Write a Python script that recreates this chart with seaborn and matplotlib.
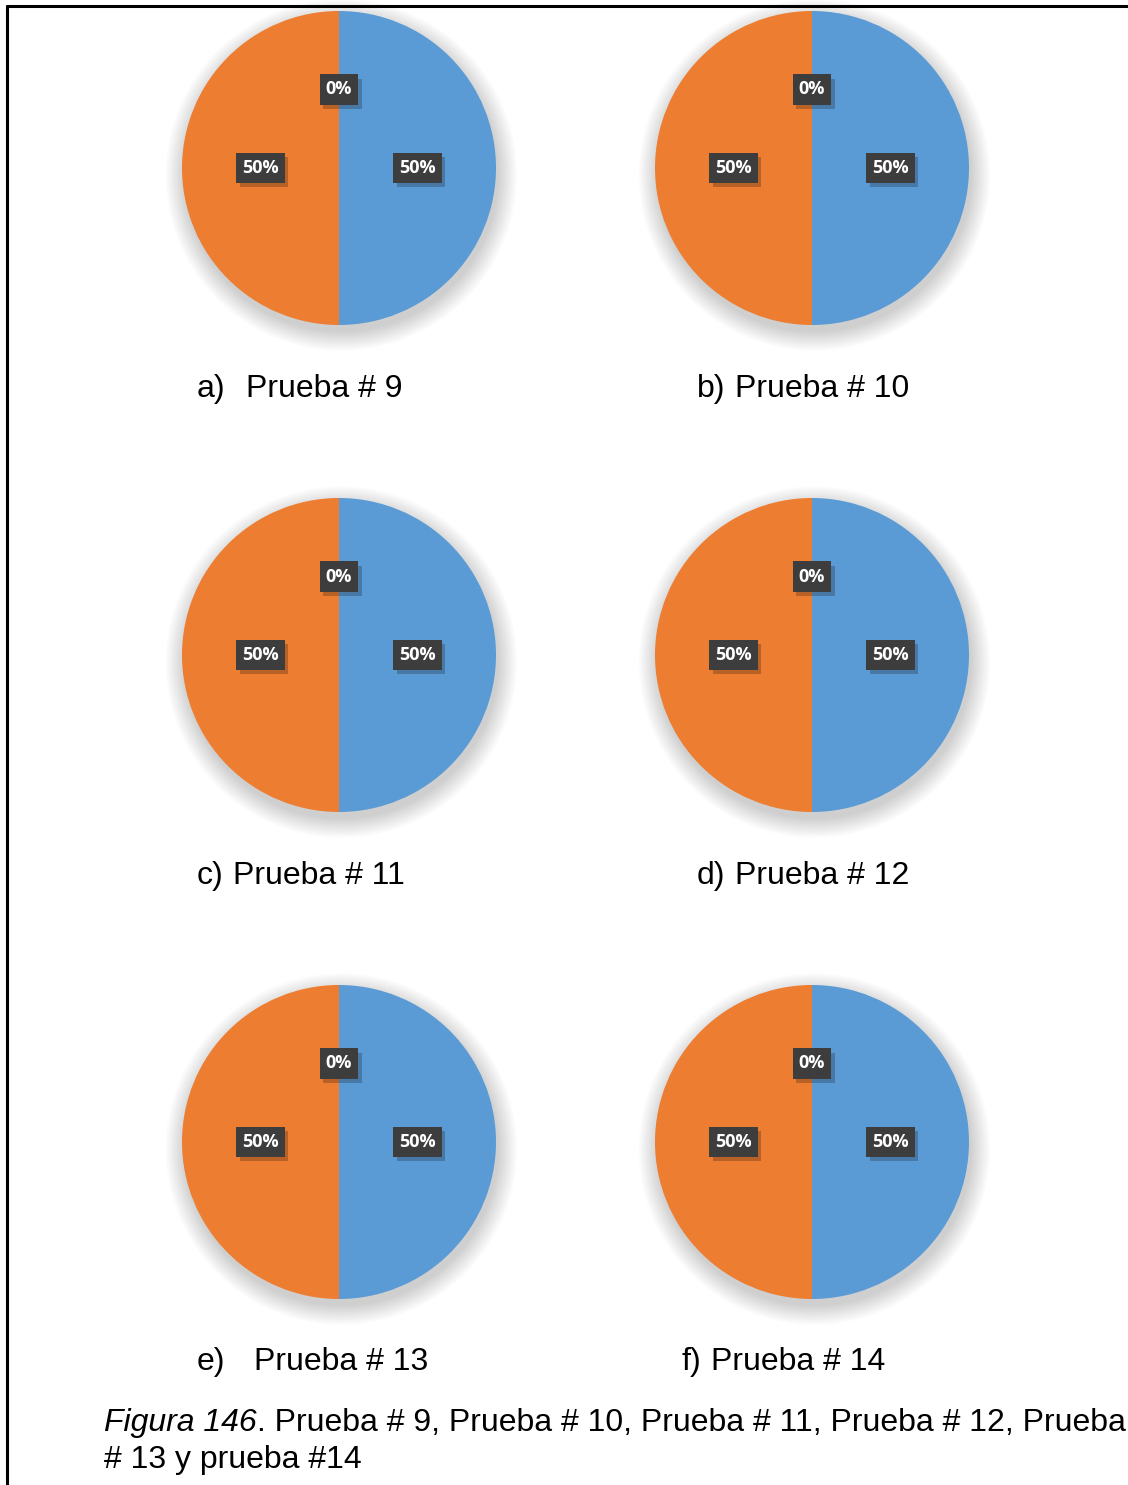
import matplotlib
matplotlib.use("Agg")
import matplotlib.pyplot as plt
import matplotlib.patheffects as pe
from matplotlib.patches import Circle
from matplotlib.lines import Line2D
import seaborn as sns

# ---- data -------------------------------------------------------------
series_names = ["Serie 1", "Serie 2", "Serie 3"]
prueba_9 = [50, 50, 0]
prueba_10 = [50, 50, 0]
prueba_11 = [50, 50, 0]
prueba_12 = [50, 50, 0]
prueba_13 = [50, 50, 0]
prueba_14 = [50, 50, 0]
panel_letters = ["a)", "b)", "c)", "d)", "e)", "f)"]
panel_titles = ["Prueba # 9", "Prueba # 10", "Prueba # 11",
                "Prueba # 12", "Prueba # 13", "Prueba # 14"]
caption_italic = "Figura 146"
caption_rest = ". Prueba # 9, Prueba # 10, Prueba # 11, Prueba # 12, Prueba"
caption_line2 = "# 13 y prueba #14"

panel_values = [prueba_9, prueba_10, prueba_11, prueba_12, prueba_13, prueba_14]

# ---- style ------------------------------------------------------------
sns.set_theme(style="white")
plt.rcParams["font.family"] = ["Liberation Sans", "DejaVu Sans"]
palette = sns.color_palette(["#5B9BD5", "#ED7D31", "#A5A5A5"])

W, H = 1128, 1485
fig = plt.figure(figsize=(W / 100, H / 100), dpi=100)
fig.patch.set_facecolor("white")


def fx(px):
    return px / W


def fy(py):
    return 1 - py / H


# page frame (top and left rule)
fig.add_artist(Line2D([fx(7), 1.0], [fy(5.5), fy(5.5)], color="black", lw=2.2))
fig.add_artist(Line2D([fx(7), fx(7)], [fy(5.5), 0.0], color="black", lw=2.2))

# pie layout (centres in pixels, radius in pixels)
centres = [(339, 168), (812, 168), (339, 655), (812, 655), (339, 1142), (812, 1142)]
R = 157
S = 400
half = S / 2 / R

letter_x = [197, 697, 197, 697, 197, 681]
title_x = [246, 735, 233, 735, 254, 711]
caption_base = [397, 397, 884, 884, 1370, 1370]
FS = 23

for i, (vals, (cx, cy)) in enumerate(zip(panel_values, centres)):
    ax = fig.add_axes([fx(cx - S / 2), fy(cy + S / 2), S / W, S / H])
    ax.set_xlim(-half, half)
    ax.set_ylim(-half, half)
    ax.axis("off")

    # soft drop shadow behind the pie
    for k in range(16):
        ax.add_patch(Circle((0.015, -0.045), 1.0 + 0.008 * k, color="black",
                            alpha=0.010, lw=0, zorder=0))

    wedges, texts, autotexts = ax.pie(
        vals, colors=palette, startangle=90, counterclock=False,
        autopct=lambda p: f"{p:.0f}%", pctdistance=0.5, radius=1.0,
        wedgeprops=dict(linewidth=0), labels=None,
        textprops=dict(color="white", fontsize=13, fontweight="bold",
                       family="Open Sans"),
    )
    for w in wedges:
        w.set_zorder(2)
    for t in autotexts:
        t.set_zorder(5)
        t.set_bbox(dict(boxstyle="square,pad=0.34", facecolor="#3d3d3d",
                        edgecolor="#3d3d3d", lw=0))
        t.get_bbox_patch().set_path_effects(
            [pe.SimplePatchShadow(offset=(2.5, -3), shadow_rgbFace="black",
                                  alpha=0.22), pe.Normal()])
    ax.set_xlim(-half, half)
    ax.set_ylim(-half, half)

    fig.text(fx(letter_x[i]), fy(caption_base[i]), panel_letters[i],
             fontsize=FS, va="baseline", ha="left", color="black")
    fig.text(fx(title_x[i]), fy(caption_base[i]), panel_titles[i],
             fontsize=FS, va="baseline", ha="left", color="black")

# figure caption
renderer = fig.canvas.get_renderer()
t1 = fig.text(fx(104), fy(1431), caption_italic, fontsize=FS,
              style="italic", va="baseline", ha="left", color="black")
bb = t1.get_window_extent(renderer=renderer)
fig.text(bb.x1 / W, fy(1431), caption_rest, fontsize=FS,
         va="baseline", ha="left", color="black")
fig.text(fx(104), fy(1468), caption_line2, fontsize=FS,
         va="baseline", ha="left", color="black")

fig.savefig("out.png", dpi=100, facecolor="white")
